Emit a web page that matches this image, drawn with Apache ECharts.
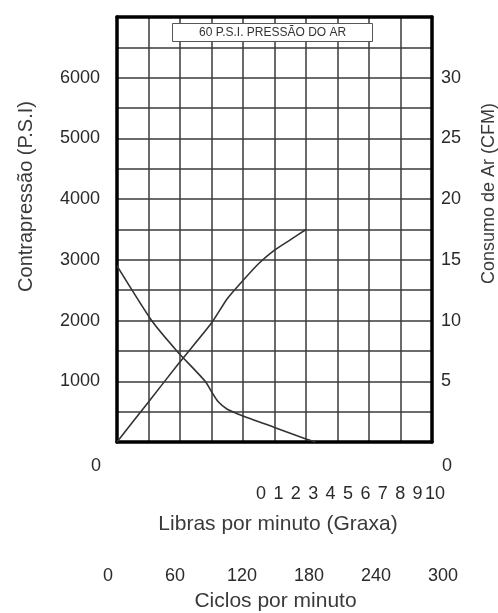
<!DOCTYPE html>
<html><head><meta charset="utf-8">
<script src="https://cdn.jsdelivr.net/npm/echarts/dist/echarts.min.js"></script>
<style>html,body{margin:0;padding:0;background:#fff}#c{width:498px;height:613px}</style>
</head><body><div id="c"></div>
<script>
const titleText = '60 P.S.I. PRESSÃO DO AR';
const leftAxisName = 'Contrapressão (P.S.I)';
const rightAxisName = 'Consumo de Ar (CFM)';
const librasName = 'Libras por minuto (Graxa)';
const ciclosName = 'Ciclos por minuto';

// curve 1: back pressure (P.S.I.) vs column position
const pressureX = [0, 1.1, 1.9, 2.8, 3.0, 3.2, 3.5, 4, 5, 6, 6.3];
const pressureY = [2900, 2000, 1500, 1000, 830, 670, 540, 430, 240, 50, 0];
// curve 2: air consumption (CFM)
const airX = [0, 1, 2, 3, 3.5, 4, 4.5, 5, 5.5, 6];
const airY = [0, 3.3, 6.6, 9.8, 11.8, 13.3, 14.7, 15.8, 16.65, 17.5];

const librasTicks = [0, 10, 1];   // min, max, step
const ciclosTicks = [0, 300, 60];
const zeroLabels = ['0', '0'];

const pressureData = pressureX.map((x, i) => [x, pressureY[i]]);
const airData = airX.map((x, i) => [x, airY[i]]);

const FONT = 'Liberation Sans, Arial, sans-serif';
const lineC = '#3a3a3a';

const chart = echarts.init(document.getElementById('c'), null, {renderer: 'canvas'});
chart.setOption({
  animation: false,
  backgroundColor: '#fff',
  title: {
    text: titleText,
    left: 172, top: 23,
    padding: [4, 27, 3, 27],
    backgroundColor: '#fff',
    borderColor: '#555',
    borderWidth: 1,
    textStyle: {fontFamily: FONT, fontSize: 12, fontWeight: 'normal', color: '#333'}
  },
  grid: [
    {left: 117, right: 66, top: 17, bottom: 171, outerBoundsMode: 'none'},
    {left: 96, width: 351, top: 444, height: 1, outerBoundsMode: 'none'},
    {left: 261, width: 174, top: 480, height: 1, outerBoundsMode: 'none'},
    {left: 108, width: 335, top: 562, height: 1, outerBoundsMode: 'none'}
  ],
  xAxis: [
    {gridIndex: 0, type: 'value', min: 0, max: 10, interval: 1, position: 'bottom',
      axisLine: {show: true, onZero: false, lineStyle: {color: '#000', width: 3.5}},
      axisTick: {show: false}, axisLabel: {show: false},
      splitLine: {show: true, lineStyle: {color: lineC, width: 1.5}}},
    {gridIndex: 0, type: 'value', min: 0, max: 10, interval: 1, position: 'top',
      axisLine: {show: true, onZero: false, lineStyle: {color: '#000', width: 3.5}},
      axisTick: {show: false}, axisLabel: {show: false}, splitLine: {show: false}},
    {gridIndex: 1, type: 'value', min: 0, max: 1, interval: 1,
      axisLine: {show: false}, axisTick: {show: false}, splitLine: {show: false},
      axisLabel: {margin: 12, fontFamily: FONT, fontSize: 18, color: '#2a2a2a',
        formatter: (v) => zeroLabels[v]}},
    {gridIndex: 2, type: 'value', min: librasTicks[0], max: librasTicks[1], interval: librasTicks[2],
      axisLine: {show: false}, axisTick: {show: false}, splitLine: {show: false},
      axisLabel: {margin: 4, fontFamily: FONT, fontSize: 18, color: '#2a2a2a'},
      name: librasName, nameLocation: 'middle', nameGap: 33,
      nameTextStyle: {fontFamily: FONT, fontSize: 21, color: '#3a3a3a', padding: [0, 140, 0, 0]}},
    {gridIndex: 3, type: 'value', min: ciclosTicks[0], max: ciclosTicks[1], interval: ciclosTicks[2],
      axisLine: {show: false}, axisTick: {show: false}, splitLine: {show: false},
      axisLabel: {margin: 4, fontFamily: FONT, fontSize: 18, color: '#2a2a2a'},
      name: ciclosName, nameLocation: 'middle', nameGap: 28,
      nameTextStyle: {fontFamily: FONT, fontSize: 21, color: '#3a3a3a'}}
  ],
  yAxis: [
    {gridIndex: 0, type: 'value', min: 0, max: 7000, interval: 500, position: 'left',
      axisLine: {show: true, onZero: false, lineStyle: {color: '#000', width: 3.5}},
      axisTick: {show: false},
      axisLabel: {margin: 17, fontFamily: FONT, fontSize: 18, color: '#2a2a2a',
        formatter: (v) => (v > 0 && v < 7000 && v % 1000 === 0) ? String(v) : ''},
      splitLine: {show: true, lineStyle: {color: lineC, width: 1.5}},
      name: leftAxisName, nameLocation: 'middle', nameGap: 81, nameRotate: 90,
      nameTextStyle: {fontFamily: FONT, fontSize: 20, color: '#3a3a3a', padding: [0, 0, 0, 66]}},
    {gridIndex: 0, type: 'value', min: 0, max: 35, interval: 2.5, position: 'right',
      axisLine: {show: true, onZero: false, lineStyle: {color: '#000', width: 3.5}},
      axisTick: {show: false},
      axisLabel: {margin: 9, fontFamily: FONT, fontSize: 18, color: '#2a2a2a',
        formatter: (v) => (v > 0 && v < 35 && v % 5 === 0) ? String(v) : ''},
      splitLine: {show: false},
      name: rightAxisName, nameLocation: 'middle', nameGap: 48, nameRotate: 90,
      nameTextStyle: {fontFamily: FONT, fontSize: 18, color: '#3a3a3a', padding: [0, 0, 0, 72]}},
    {gridIndex: 1, show: false, type: 'value'},
    {gridIndex: 2, show: false, type: 'value'},
    {gridIndex: 3, show: false, type: 'value'}
  ],
  series: [
    {type: 'line', xAxisIndex: 0, yAxisIndex: 0, data: pressureData, showSymbol: false, symbol: 'none',
      smooth: 0.2, lineStyle: {color: '#333', width: 1.6}, z: 5},
    {type: 'line', xAxisIndex: 0, yAxisIndex: 1, data: airData, showSymbol: false, symbol: 'none',
      smooth: 0.2, lineStyle: {color: '#333', width: 1.6}, z: 5}
  ]
});
</script>
</body></html>
